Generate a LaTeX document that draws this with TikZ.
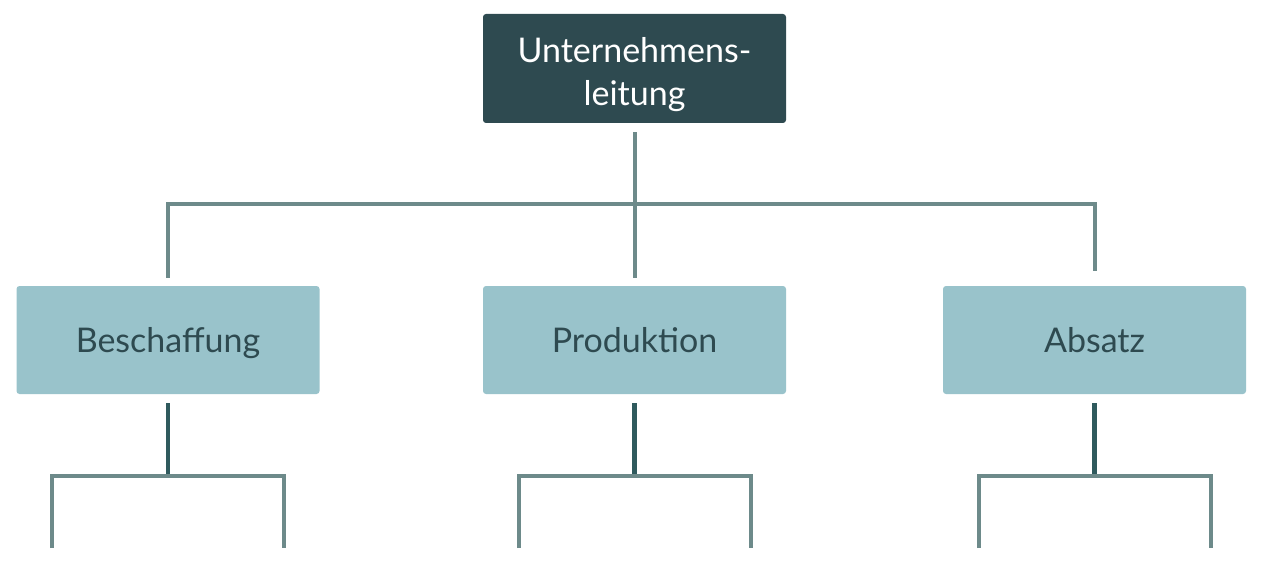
\documentclass[tikz,border=0pt]{standalone}
\usepackage{fontspec}
\setmainfont{Lato}
\usepackage{tikz}

\definecolor{leitdark}{HTML}{2E4A50}
\definecolor{abtlight}{HTML}{99C3CB}
\definecolor{linegray}{HTML}{6D8A8A}
\definecolor{linedark}{HTML}{2F5A5D}

\tikzset{
    leitbox/.style={fill=leitdark, text=white, rounded corners=3pt,
        minimum width=303pt, minimum height=109pt, inner sep=0pt,
        text height=75pt, text depth=0pt,
        align=center, font=\fontsize{34}{43}\selectfont},
    abtbox/.style={fill=abtlight, text=leitdark, rounded corners=3pt,
        minimum width=303pt, minimum height=108pt, inner sep=0pt,
        text height=24pt, text depth=0pt,
        font=\fontsize{34}{43}\selectfont},
    upline/.style={draw=linegray, line width=4pt},
    downline/.style={draw=linedark, line width=4.5pt}
}

\begin{document}
\begin{tikzpicture}[x=1pt, y=-1pt]

    \useasboundingbox (0,0) rectangle (1266,564);

    % Top of the organisation
    \node[leitbox] (leitung) at (634.5,68.5) {Unternehmens-\\leitung};

    % Departments
    \node[abtbox] (beschaffung) at (168,340) {Beschaffung};
    \node[abtbox] (produktion) at (634.5,340) {Produktion};
    \node[abtbox] (absatz) at (1094.5,340) {Absatz};

    % Branch point of the upper bar
    \coordinate (bar) at (634.5,204);

    % Connect the top to the departments
    \draw[upline, shorten <=9pt, shorten >=8pt] (leitung.south) -- (produktion.north);
    \draw[upline, shorten <=8pt, shorten >=15pt] (beschaffung.north) |- (bar) -| (absatz.north);

    % Open branches below every department
    \foreach \abt in {beschaffung, produktion, absatz} {
        \draw[downline, shorten <=9pt] (\abt.south) -- ++(0,83);
        \draw[upline] (\abt.south) ++(-116,154) |- ++(116,-72) -| ++(116,72);
    }
\end{tikzpicture}
\end{document}
